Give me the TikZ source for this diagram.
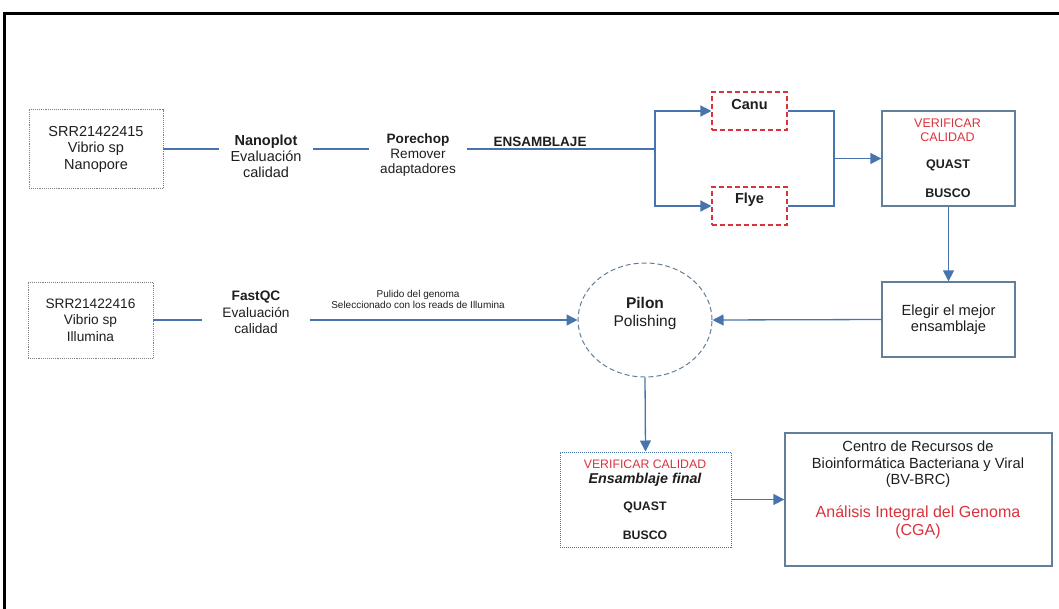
\documentclass[tikz,border=0pt]{standalone}
\usepackage{fontspec}
\setmainfont{Liberation Sans}
\usetikzlibrary{arrows.meta,shapes.geometric}
\definecolor{lb}{RGB}{72,116,174}
\definecolor{bb}{RGB}{98,126,152}
\definecolor{rd}{RGB}{218,50,60}
\definecolor{tx}{RGB}{30,30,30}
\begin{document}
\begin{tikzpicture}[x=1pt,y=-1pt,
  conn/.style={draw=lb, line width=1.3pt},
  arr/.style={conn, -{Triangle[length=11pt,width=11pt]}},
  txt/.style={align=center, inner sep=0pt, text=tx, font=\fontsize{14.5}{16}\selectfont},
  smalltxt/.style={align=center, inner sep=0pt, text=tx, font=\fontsize{10}{11}\selectfont},
  boldtxt/.style={inner sep=0pt, text=tx, font=\fontsize{12.5}{14}\selectfont\bfseries},
  redtxt/.style={align=center, inner sep=0pt, text=rd, font=\fontsize{12.5}{14}\selectfont},
  srcbox/.style={draw=gray, densely dotted, line width=0.9pt, align=center, inner sep=0pt, text=tx, font=\fontsize{14.5}{16.5}\selectfont},
  bluebox/.style={draw=bb, line width=1.3pt, inner sep=0pt},
  toolbox/.style={draw=rd, dash pattern=on 5pt off 3pt, line width=1.1pt, inner sep=0pt, minimum width=75pt, minimum height=38pt}
]
\useasboundingbox (0,0) rectangle (1059,608);
\draw[line width=3pt, line cap=rect] (4.5,610) -- (4.5,13.5) -- (1062,13.5);

% row 1
\node[srcbox, minimum width=134pt, minimum height=79pt] (b1) at (96,149) {SRR21422415\\Vibrio sp\\Nanopore};
\node[txt, inner xsep=11.5pt] (nano) at (266,156) {\textbf{Nanoplot}\\Evaluación\\calidad};
\node[txt, inner xsep=10.5pt, font=\fontsize{13.6}{15}\selectfont] (pore) at (418,154.5) {\textbf{Porechop}\\Remover\\adaptadores};
\node[inner sep=0pt, text=tx, font=\fontsize{13.5}{15}\selectfont\bfseries] (ens) at (540,142) {ENSAMBLAJE};
\coordinate (split) at (655,149);
\node[toolbox] (canu) at (749.5,111) {};
\node[inner sep=0pt, text=tx, font=\fontsize{14.5}{16}\selectfont\bfseries] (canut) at (749.5,105) {Canu};
\node[toolbox] (flye) at (749.5,206) {};
\node[inner sep=0pt, text=tx, font=\fontsize{14.5}{16}\selectfont\bfseries] (flyet) at (749.5,200) {Flye};
\coordinate (merge) at (834,158.5);
\node[bluebox, minimum width=133pt, minimum height=95pt] (q1) at (948.5,158.5) {};
\node[redtxt] (q1v) at (947.5,130) {VERIFICAR\\CALIDAD};
\node[boldtxt] (q1q) at (948,165) {QUAST};
\node[boldtxt] (q1b) at (948,193) {BUSCO};

\draw[conn] (b1.east) -- (b1.east -| nano.west);
\draw[conn] (b1.east -| nano.east) -- (b1.east -| pore.west);
\draw[conn] (b1.east -| pore.east) -- (split);
\draw[arr] (split) |- (canu.west);
\draw[arr] (split) |- (flye.west);
\draw[conn] (canu.east) -| (merge);
\draw[conn] (flye.east) -| (merge);
\draw[arr] (merge) -- (q1.west);

% row 2
\node[srcbox, minimum width=125pt, minimum height=76pt, font=\fontsize{13.7}{16.5}\selectfont] (b2) at (90.5,320) {SRR21422416\\Vibrio sp\\Illumina};
\node[txt, inner xsep=20pt, font=\fontsize{13.7}{16.5}\selectfont] (fq) at (256,312.5) {\textbf{FastQC}\\Evaluación\\calidad};
\node[smalltxt] (pul) at (418,299) {Pulido del genoma\\Seleccionado con los reads de Illumina};
\node[draw=bb, dash pattern=on 5pt off 3pt, line width=1pt, ellipse, minimum width=134pt, minimum height=114pt, inner sep=0pt] (pilon) at (645,320) {};
\node[txt, font=\fontsize{15.5}{18}\selectfont] (pilont) at (645,313) {\textbf{Pilon}\\Polishing};
\node[bluebox, minimum width=133pt, minimum height=75pt, align=center, text=tx, font=\fontsize{14.7}{16.5}\selectfont] (best) at (948.5,319.5) {Elegir el mejor\\ensamblaje};

\draw[conn] (b2.east) -- (b2.east -| fq.west);
\draw[arr] (b2.east -| fq.east) -- (pilon.west);
\draw[arr] (best.west) -- (pilon.east);
\draw[arr] (q1.south) -- (best.north);

% row 3
\node[draw=lb, densely dotted, line width=1pt, minimum width=171pt, minimum height=95pt, inner sep=0pt] (q2) at (645.5,499.5) {};
\node[redtxt, font=\fontsize{12.3}{14}\selectfont] (q2v) at (645,464.5) {VERIFICAR CALIDAD};
\node[inner sep=0pt, text=tx, font=\fontsize{14.3}{16}\selectfont\bfseries\itshape] (q2e) at (645,480) {Ensamblaje final};
\node[boldtxt, font=\fontsize{12.3}{14}\selectfont\bfseries] (q2q) at (645,507) {QUAST};
\node[boldtxt, font=\fontsize{12.3}{14}\selectfont\bfseries] (q2b) at (645,535) {BUSCO};
\node[bluebox, minimum width=267pt, minimum height=133pt] (bv) at (918.5,499.5) {};
\node[txt, font=\fontsize{14.7}{16.5}\selectfont] (bvt) at (918,464.5) {Centro de Recursos de\\Bioinformática Bacteriana y Viral\\(BV-BRC)};
\node[redtxt, font=\fontsize{16}{18}\selectfont] (bvr) at (918,522) {Análisis Integral del Genoma\\(CGA)};

\draw[arr] (pilon.south) -- (q2.north);
\draw[arr] (q2.east) -- (bv.west);
\end{tikzpicture}
\end{document}
